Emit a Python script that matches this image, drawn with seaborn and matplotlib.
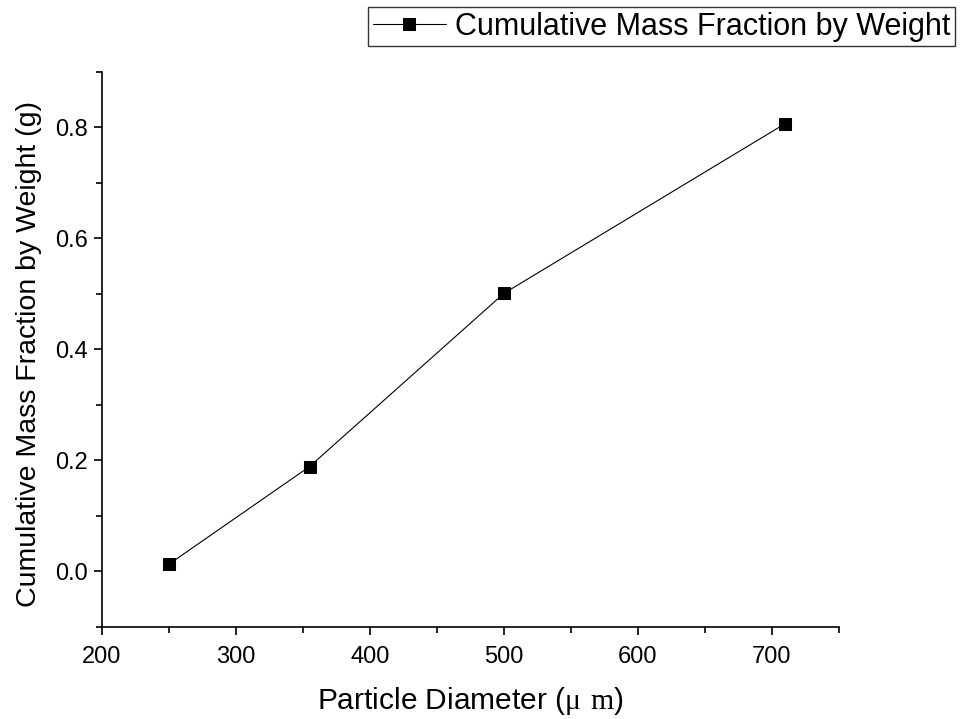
import pandas as pd
import numpy as np
import seaborn as sns
import matplotlib.pyplot as plt
from matplotlib.ticker import MultipleLocator

# Values
diameter = [250, 355, 500, 710]
mass_fraction = [0.013, 0.189, 0.501, 0.807]
series_name = "Cumulative Mass Fraction by Weight"

df = pd.DataFrame({"diameter": diameter, "fraction": mass_fraction, "series": series_name})

sns.set_style("ticks")
plt.rcParams['font.family'] = ['Liberation Sans', 'DejaVu Sans']
plt.rcParams['text.color'] = 'black'
plt.rcParams['axes.labelcolor'] = 'black'
plt.rcParams['mathtext.fontset'] = 'custom'
plt.rcParams['mathtext.rm'] = 'Liberation Serif'

fig = plt.figure(figsize=(9.61, 7.19), dpi=100)
ax = fig.add_axes([0.106, 0.128, 0.767, 0.772])

sns.lineplot(data=df, x="diameter", y="fraction", hue="series", palette=["black"],
             marker="s", markersize=9, markeredgecolor="black", linewidth=0.8, ax=ax)

ax.set_xlim(200, 750)
ax.set_ylim(-0.1, 0.9)
ax.set_xticks([200, 300, 400, 500, 600, 700])
ax.set_yticks([0.0, 0.2, 0.4, 0.6, 0.8])
ax.xaxis.set_minor_locator(MultipleLocator(50))
ax.yaxis.set_minor_locator(MultipleLocator(0.1))
ax.yaxis.set_major_formatter(plt.FormatStrFormatter('%.1f'))
ax.tick_params(which='major', direction='out', length=6, width=1.2, labelsize=17,
               colors='black', pad=4)
ax.tick_params(axis='x', which='major', pad=8)
ax.tick_params(which='minor', direction='out', length=4, width=1.2, colors='black')

sns.despine(ax=ax)
for s in ['left', 'bottom']:
    ax.spines[s].set_linewidth(1.2)
    ax.spines[s].set_color('black')

ax.set_xlabel(r"Particle Diameter ($\mathrm{\mu\ m}$)", fontsize=21.5)
ax.set_ylabel("Cumulative Mass Fraction by Weight (g)", fontsize=20.5)
ax.xaxis.set_label_coords(0.5, -0.104)
ax.yaxis.set_label_coords(-0.081, 0.492)

leg = ax.legend(loc='upper right', bbox_to_anchor=(0.994, 0.99), bbox_transform=fig.transFigure,
                fontsize=22, frameon=True, fancybox=False, edgecolor='black',
                handlelength=2.4, borderpad=0.15, handletextpad=0.3, borderaxespad=0)
leg.get_frame().set_linewidth(1.0)

plt.savefig('out.png', dpi=100)
plt.close()
